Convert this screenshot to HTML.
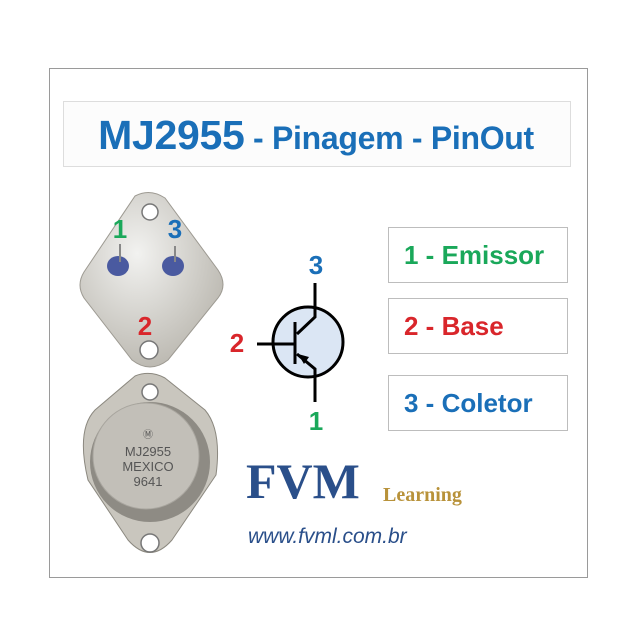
<!DOCTYPE html>
<html><head><meta charset="utf-8"><style>
body{margin:0;background:#fff;width:640px;height:640px;position:relative;overflow:hidden;font-family:"Liberation Sans",sans-serif}
.a{position:absolute}
.box{position:absolute;border:1px solid #bdbdbd;background:#fff}
.lbl{position:absolute;font-weight:bold;font-size:26px;line-height:1}
</style></head><body>
<div class="box" style="left:49px;top:68px;width:537px;height:508px;border-color:#9a9a9a"></div>
<div class="box" style="left:63px;top:101px;width:506px;height:64px;border-color:#ddd;background:#fcfcfc"></div>
<div class="a" style="left:63px;top:112px;width:506px;text-align:center;color:#1a6fb8;font-weight:bold;white-space:nowrap;letter-spacing:-0.3px"><span style="font-size:41px">MJ2955</span><span style="font-size:32px"> - Pinagem - PinOut</span></div>

<div class="box" style="left:388px;top:227px;width:178px;height:54px"></div>
<div class="lbl" style="left:404px;top:242px;color:#1aa85a">1 - Emissor</div>
<div class="box" style="left:388px;top:298px;width:178px;height:54px"></div>
<div class="lbl" style="left:404px;top:313px;color:#d9262b">2 - Base</div>
<div class="box" style="left:388px;top:375px;width:178px;height:54px"></div>
<div class="lbl" style="left:404px;top:390px;color:#1a6fb8">3 - Coletor</div>

<svg class="a" style="left:0;top:0" width="640" height="640">
<defs><radialGradient id="m" cx="40%" cy="35%" r="70%"><stop offset="0" stop-color="#f2f2f0"/><stop offset="1" stop-color="#b9b6ae"/></radialGradient></defs>
<path d="M135,196 Q150,188 165,198 L218,270 Q228,285 218,298 L168,360 Q150,374 132,360 L84,298 Q76,285 84,272 Z" fill="url(#m)" stroke="#9d9a92"/>
<circle cx="150" cy="212" r="8" fill="#fff" stroke="#777" stroke-width="1.5"/>
<circle cx="149" cy="350" r="9" fill="#fff" stroke="#777" stroke-width="1.5"/>
<ellipse cx="118" cy="266" rx="11" ry="10" fill="#4a5aa0"/>
<ellipse cx="173" cy="266" rx="11" ry="10" fill="#4a5aa0"/>
<line x1="120" y1="244" x2="120" y2="262" stroke="#888" stroke-width="2"/>
<line x1="175" y1="246" x2="175" y2="262" stroke="#888" stroke-width="2"/>
<path d="M135,376 Q150,370 165,378 L205,410 Q222,430 216,475 L172,540 Q150,565 128,540 L88,480 Q76,430 95,410 Z" fill="#c9c6be" stroke="#8b887f"/>
<circle cx="150" cy="392" r="8" fill="#fff" stroke="#777" stroke-width="1.5"/>
<circle cx="150" cy="543" r="9" fill="#fff" stroke="#777" stroke-width="1.5"/>
<circle cx="150" cy="462" r="60" fill="#8e8b84"/>
<circle cx="146" cy="456" r="53" fill="#c2bfb8" stroke="#a8a59e"/>
<text x="148" y="438" text-anchor="middle" font-size="10" fill="#555">Ⓜ</text>
<text x="148" y="456" text-anchor="middle" font-size="13" fill="#555">MJ2955</text>
<text x="148" y="471" text-anchor="middle" font-size="13" fill="#555">MEXICO</text>
<text x="148" y="486" text-anchor="middle" font-size="13" fill="#555">9641</text>
<text x="120" y="238" text-anchor="middle" font-size="26" font-weight="bold" fill="#1aa85a">1</text>
<text x="175" y="238" text-anchor="middle" font-size="26" font-weight="bold" fill="#1a6fb8">3</text>
<text x="145" y="335" text-anchor="middle" font-size="26" font-weight="bold" fill="#d9262b">2</text>
<circle cx="308" cy="342" r="35" fill="#dbe6f4" stroke="#000" stroke-width="3"/>
<line x1="257" y1="344" x2="295" y2="344" stroke="#000" stroke-width="3"/>
<line x1="295" y1="322" x2="295" y2="364" stroke="#000" stroke-width="3"/>
<path d="M315,283 L315,317 L297,334" fill="none" stroke="#000" stroke-width="3"/>
<path d="M297,354 L315,369 L315,402" fill="none" stroke="#000" stroke-width="3"/>
<path d="M298,354 L309,357 L304,364 Z" fill="#000"/>
<text x="316" y="274" text-anchor="middle" font-size="26" font-weight="bold" fill="#1a6fb8">3</text>
<text x="237" y="352" text-anchor="middle" font-size="26" font-weight="bold" fill="#d9262b">2</text>
<text x="316" y="430" text-anchor="middle" font-size="26" font-weight="bold" fill="#1aa85a">1</text>
<text x="246" y="498" font-family="Liberation Serif,serif" font-size="50" font-weight="bold" fill="#2a4f8a">FVM</text>
<text x="383" y="501" font-family="Liberation Serif,serif" font-size="20" font-weight="bold" fill="#b8923a">Learning</text>
<text x="248" y="543" font-size="21" font-style="italic" fill="#2a4f8a">www.fvml.com.br</text>
</svg>
</body></html>
